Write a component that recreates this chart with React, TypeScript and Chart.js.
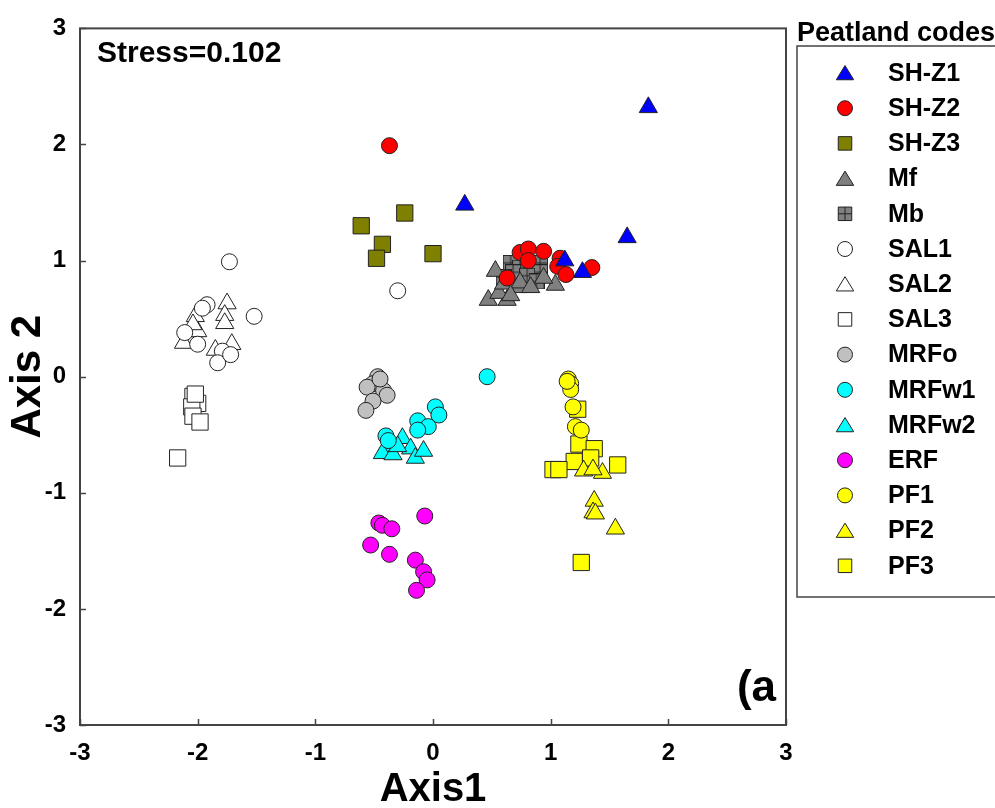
import React, { useEffect, useRef } from "react";
import { Chart, registerables } from "chart.js";

Chart.register(...registerables);

type Pt = [number, number];

const seriesNames = ["SH-Z1", "SH-Z2", "SH-Z3", "Mf", "Mb", "SAL1", "SAL2", "SAL3", "MRFo", "MRFw1", "MRFw2", "ERF", "PF1", "PF2", "PF3"];

const shz1: Pt[] = [[0.27, 1.48], [1.83, 2.32], [1.65, 1.2], [1.12, 1.0], [1.27, 0.9]];
const shz2: Pt[] = [[-0.37, 1.99], [0.74, 1.07], [0.81, 1.1], [0.94, 1.08], [0.81, 1.0], [0.63, 0.85], [1.08, 1.02], [1.06, 0.95], [1.13, 0.88], [1.35, 0.94]];
const shz3: Pt[] = [[-0.24, 1.41], [-0.61, 1.3], [-0.43, 1.14], [-0.48, 1.02], [0.0, 1.06]];
const mf: Pt[] = [[0.53, 0.91], [0.47, 0.66], [0.63, 0.66], [0.56, 0.72], [0.72, 0.77], [0.74, 0.81], [0.83, 0.77], [1.04, 0.79], [0.94, 0.85], [0.6, 0.8], [0.66, 0.7]];
const mb: Pt[] = [[0.66, 0.98], [0.74, 0.94], [0.68, 0.9], [0.91, 0.98], [0.91, 0.9], [0.8, 0.87], [0.6, 0.86], [0.88, 0.82]];
const sal1: Pt[] = [[-1.73, 0.99], [-1.52, 0.52], [-0.3, 0.74], [-1.92, 0.62], [-1.96, 0.59], [-2.11, 0.38], [-2.0, 0.28], [-1.79, 0.22], [-1.83, 0.12], [-1.72, 0.19]];
const sal2: Pt[] = [[-1.75, 0.63], [-2.02, 0.52], [-1.77, 0.53], [-1.77, 0.46], [-2.0, 0.39], [-2.12, 0.29], [-1.85, 0.23], [-1.71, 0.28], [-2.04, 0.45]];
const sal3: Pt[] = [[-2.04, -0.17], [-2.0, -0.23], [-2.05, -0.26], [-2.04, -0.34], [-1.98, -0.39], [-2.02, -0.15], [-2.17, -0.7]];
const mrfo: Pt[] = [[-0.47, 0.0], [-0.51, -0.06], [-0.56, -0.09], [-0.42, -0.12], [-0.39, -0.16], [-0.51, -0.21], [-0.57, -0.29], [-0.45, -0.02]];
const mrfw1: Pt[] = [[0.02, -0.26], [0.05, -0.33], [-0.13, -0.38], [-0.04, -0.43], [-0.13, -0.46], [-0.4, -0.51], [0.46, 0.0], [-0.38, -0.55]];
const mrfw2: Pt[] = [[-0.39, -0.6], [-0.26, -0.53], [-0.43, -0.66], [-0.34, -0.67], [-0.19, -0.62], [-0.15, -0.7], [-0.08, -0.64], [-0.3, -0.6]];
const erf: Pt[] = [[-0.07, -1.2], [-0.46, -1.26], [-0.43, -1.28], [-0.35, -1.31], [-0.53, -1.45], [-0.37, -1.53], [-0.15, -1.58], [-0.08, -1.68], [-0.05, -1.75], [-0.14, -1.84]];
const pf1: Pt[] = [[1.15, -0.02], [1.17, -0.06], [1.17, -0.11], [1.19, -0.26], [1.21, -0.43], [1.26, -0.46], [1.14, -0.04]];
const pf2: Pt[] = [[1.44, -0.83], [1.37, -1.07], [1.36, -1.17], [1.38, -1.18], [1.55, -1.31], [1.28, -0.81], [1.36, -0.8]];
const pf3: Pt[] = [[1.23, -0.28], [1.24, -0.58], [1.37, -0.62], [1.34, -0.7], [1.2, -0.73], [1.02, -0.8], [1.07, -0.8], [1.57, -0.76], [1.26, -1.6]];

const seriesData: Pt[][] = [shz1, shz2, shz3, mf, mb, sal1, sal2, sal3, mrfo, mrfw1, mrfw2, erf, pf1, pf2, pf3];
const seriesColors = ["#0000FF", "#FF0000", "#808000", "#808080", "#808080", "#FFFFFF", "#FFFFFF", "#FFFFFF", "#C0C0C0", "#00FFFF", "#00FFFF", "#FF00FF", "#FFFF00", "#FFFF00", "#FFFF00"];
const seriesShapes = ["triangle", "circle", "rect", "triangle", "crossRect", "circle", "triangle", "rect", "circle", "circle", "triangle", "circle", "circle", "triangle", "rect"];

const xTicks = [-3, -2, -1, 0, 1, 2, 3];
const yTicks = [-3, -2, -1, 0, 1, 2, 3];

const FONT = "Arial, 'Liberation Sans', sans-serif";

function makeCrossRect(size: number): HTMLCanvasElement {
  const c = document.createElement("canvas");
  c.width = size;
  c.height = size;
  const g = c.getContext("2d")!;
  g.fillStyle = "#808080";
  g.fillRect(0.5, 0.5, size - 1, size - 1);
  g.strokeStyle = "#222";
  g.lineWidth = 1;
  g.strokeRect(0.5, 0.5, size - 1, size - 1);
  g.beginPath();
  g.moveTo(size / 2, 0);
  g.lineTo(size / 2, size);
  g.moveTo(0, size / 2);
  g.lineTo(size, size / 2);
  g.stroke();
  return c;
}

function drawSymbol(ctx: CanvasRenderingContext2D, shape: string, color: string, x: number, y: number, s: number) {
  ctx.save();
  ctx.fillStyle = color;
  ctx.strokeStyle = "#222";
  ctx.lineWidth = 1;
  ctx.beginPath();
  if (shape === "circle") {
    ctx.arc(x, y, s * 0.5, 0, Math.PI * 2);
  } else if (shape === "triangle") {
    ctx.moveTo(x, y - s * 0.5);
    ctx.lineTo(x + s * 0.58, y + s * 0.45);
    ctx.lineTo(x - s * 0.58, y + s * 0.45);
    ctx.closePath();
  } else {
    ctx.rect(x - s * 0.45, y - s * 0.45, s * 0.9, s * 0.9);
  }
  ctx.fill();
  ctx.stroke();
  if (shape === "crossRect") {
    ctx.beginPath();
    ctx.moveTo(x, y - s * 0.45);
    ctx.lineTo(x, y + s * 0.45);
    ctx.moveTo(x - s * 0.45, y);
    ctx.lineTo(x + s * 0.45, y);
    ctx.stroke();
  }
  ctx.restore();
}

export default function App() {
  const ref = useRef<HTMLCanvasElement | null>(null);

  useEffect(() => {
    const canvas = ref.current;
    if (!canvas) return;
    const crossImg = makeCrossRect(16);

    const datasets = seriesNames.map((name, i) => {
      const shape = seriesShapes[i];
      let pointStyle: any = shape;
      let radius = 8;
      if (shape === "triangle") radius = 10.5;
      if (shape === "rect") radius = 11.5;
      if (shape === "crossRect") pointStyle = crossImg;
      return {
        label: name,
        data: seriesData[i].map(([x, y]) => ({ x, y })),
        pointStyle,
        pointRadius: radius,
        backgroundColor: seriesColors[i],
        borderColor: "#222",
        borderWidth: 1,
        showLine: false,
      };
    });

    const decor = {
      id: "decor",
      afterDraw(chart: any) {
        const ctx: CanvasRenderingContext2D = chart.ctx;
        const { left, right, top, bottom } = chart.chartArea;
        const xs = chart.scales.x;
        const ys = chart.scales.y;
        ctx.save();
        // inward ticks
        ctx.strokeStyle = "#444";
        ctx.lineWidth = 1.5;
        ctx.beginPath();
        xTicks.forEach((v) => {
          const px = Math.round(xs.getPixelForValue(v)) + 0.5;
          ctx.moveTo(px, bottom);
          ctx.lineTo(px, bottom - 6);
        });
        yTicks.forEach((v) => {
          const py = Math.round(ys.getPixelForValue(v)) + 0.5;
          ctx.moveTo(left, py);
          ctx.lineTo(left + 6, py);
        });
        ctx.stroke();
        // frame
        ctx.strokeStyle = "#444";
        ctx.lineWidth = 2;
        ctx.strokeRect(left, top, right - left, bottom - top);
        // texts
        ctx.fillStyle = "#000";
        ctx.textBaseline = "middle";
        ctx.textAlign = "left";
        ctx.font = `bold 30px ${FONT}`;
        ctx.fillText("Stress=0.102", left + 17, top + 25);
        ctx.font = `bold 44px ${FONT}`;
        ctx.textAlign = "right";
        ctx.fillText("(a", right - 10, bottom - 36);
        // legend
        ctx.textAlign = "left";
        ctx.font = `bold 27px ${FONT}`;
        ctx.fillText("Peatland codes", 797, 34);
        ctx.strokeStyle = "#444";
        ctx.lineWidth = 1.5;
        ctx.strokeRect(797, 46, 210, 551);
        ctx.font = `bold 25px ${FONT}`;
        seriesNames.forEach((name, i) => {
          const y = 73 + i * 35.2;
          drawSymbol(ctx, seriesShapes[i], seriesColors[i], 845, y, 15);
          ctx.fillStyle = "#000";
          ctx.fillText(name, 888, y + 1);
        });
        ctx.restore();
      },
    };

    const chart = new Chart(canvas, {
      type: "scatter",
      data: { datasets },
      options: {
        animation: false,
        responsive: false,
        events: [],
        layout: { padding: { left: 0, top: 20, right: 209, bottom: 0 } },
        plugins: { legend: { display: false }, tooltip: { enabled: false } },
        scales: {
          x: {
            type: "linear",
            min: -3,
            max: 3,
            afterFit: (s: any) => { s.height = 83; },
            afterBuildTicks: (s: any) => { s.ticks = xTicks.map((v) => ({ value: v })); },
            grid: { display: false, drawTicks: false },
            border: { display: false },
            ticks: { color: "#000", padding: 14, font: { family: FONT, size: 24, weight: "bold" } },
            title: { display: true, text: "Axis1", color: "#000", padding: { top: 0, bottom: 0 }, font: { family: FONT, size: 40, weight: "bold", lineHeight: 0.9 } },
          },
          y: {
            type: "linear",
            min: -3,
            max: 3,
            afterFit: (s: any) => { s.width = 80; },
            afterBuildTicks: (s: any) => { s.ticks = yTicks.map((v) => ({ value: v })); },
            grid: { display: false, drawTicks: false },
            border: { display: false },
            ticks: { color: "#000", padding: 14, font: { family: FONT, size: 24, weight: "bold" } },
            title: { display: true, text: "Axis 2", color: "#000", padding: { top: 7, bottom: 0 }, font: { family: FONT, size: 42, weight: "bold", lineHeight: 1 } },
          },
        },
      },
      plugins: [decor],
    } as any);

    return () => chart.destroy();
  }, []);

  return (
    <div style={{ position: "absolute", left: 0, top: 0, width: 995, height: 808, background: "#fff" }}>
      <canvas ref={ref} width={995} height={808} style={{ display: "block" }} />
    </div>
  );
}
